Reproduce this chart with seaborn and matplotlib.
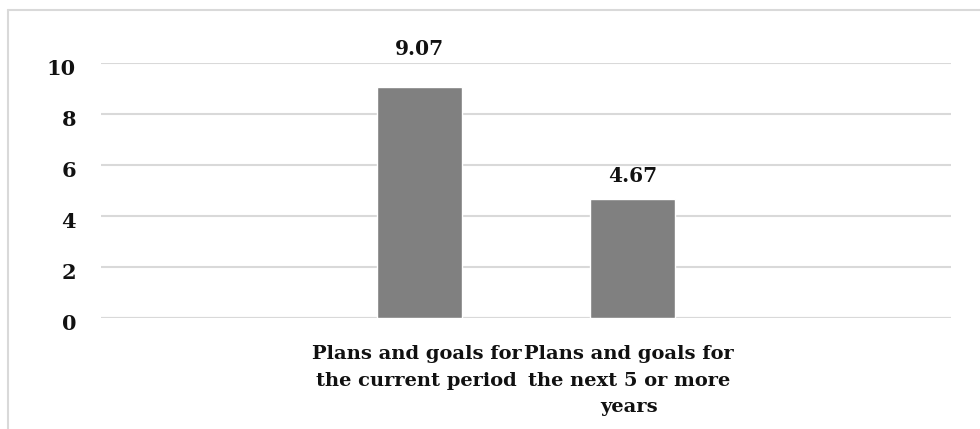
import matplotlib
matplotlib.use("Agg")
import matplotlib.pyplot as plt
import matplotlib.transforms as mtransforms
import seaborn as sns
from matplotlib.lines import Line2D

categories = [" ", "Plans and goals for \nthe current period ",
              "Plans and goals for \nthe next 5 or more \nyears ", "  "]
labels = ["Plans and goals for \nthe current period ",
          "Plans and goals for \nthe next 5 or more \nyears "]
values = [9.07, 4.67]
yticks = [0, 2, 4, 6, 8, 10]

sns.set_theme(style="white")
plt.rcParams["font.family"] = ["DejaVu Serif"]
plt.rcParams["font.weight"] = "bold"

fig = plt.figure(figsize=(9.8, 4.29), dpi=100)
ax = fig.add_axes([0.1031, 0.2576, 0.8673, 0.5944])

sns.barplot(x=labels, y=values, order=categories, color="#808080",
            saturation=1, width=0.4, ax=ax)

ax.set_ylim(0, 10)
ax.set_xlim(-0.5, 3.5)
ax.set_yticks(yticks)
ax.grid(axis="y", color="#d9d9d9", linewidth=1.5)
ax.set_axisbelow(True)
for s in ax.spines.values():
    s.set_visible(False)
ax.axhline(0, color="#d9d9d9", linewidth=1.5, zorder=0.5)
ax.tick_params(axis="y", length=0, pad=18, labelsize=15)
ax.tick_params(axis="x", length=0, pad=19, labelsize=14)
shift = mtransforms.ScaledTranslation(0, -4 / 100, fig.dpi_scale_trans)
for t in ax.get_yticklabels():
    t.set_transform(t.get_transform() + shift)
for t in ax.get_yticklabels() + ax.get_xticklabels():
    t.set_fontweight("bold")
    t.set_color("#111111")
for t in ax.get_xticklabels():
    t.set_linespacing(1.62)
ax.set_xlabel("")
ax.set_ylabel("")

offsets = [20, 10]
for bar, v, off in zip(ax.patches, values, offsets):
    ax.annotate(f"{v:.2f}", (bar.get_x() + bar.get_width() / 2, v),
                xytext=(0, off), textcoords="offset points",
                ha="center", va="bottom", fontsize=14.5, fontweight="bold",
                color="#111111", annotation_clip=False)

fig.add_artist(Line2D([8 / 980, 1], [1 - 10 / 429, 1 - 10 / 429],
                      transform=fig.transFigure, color="#d9d9d9", linewidth=1.5))
fig.add_artist(Line2D([8 / 980, 8 / 980], [0, 1 - 10 / 429],
                      transform=fig.transFigure, color="#d9d9d9", linewidth=1.5))

fig.savefig("out.png", dpi=100)
